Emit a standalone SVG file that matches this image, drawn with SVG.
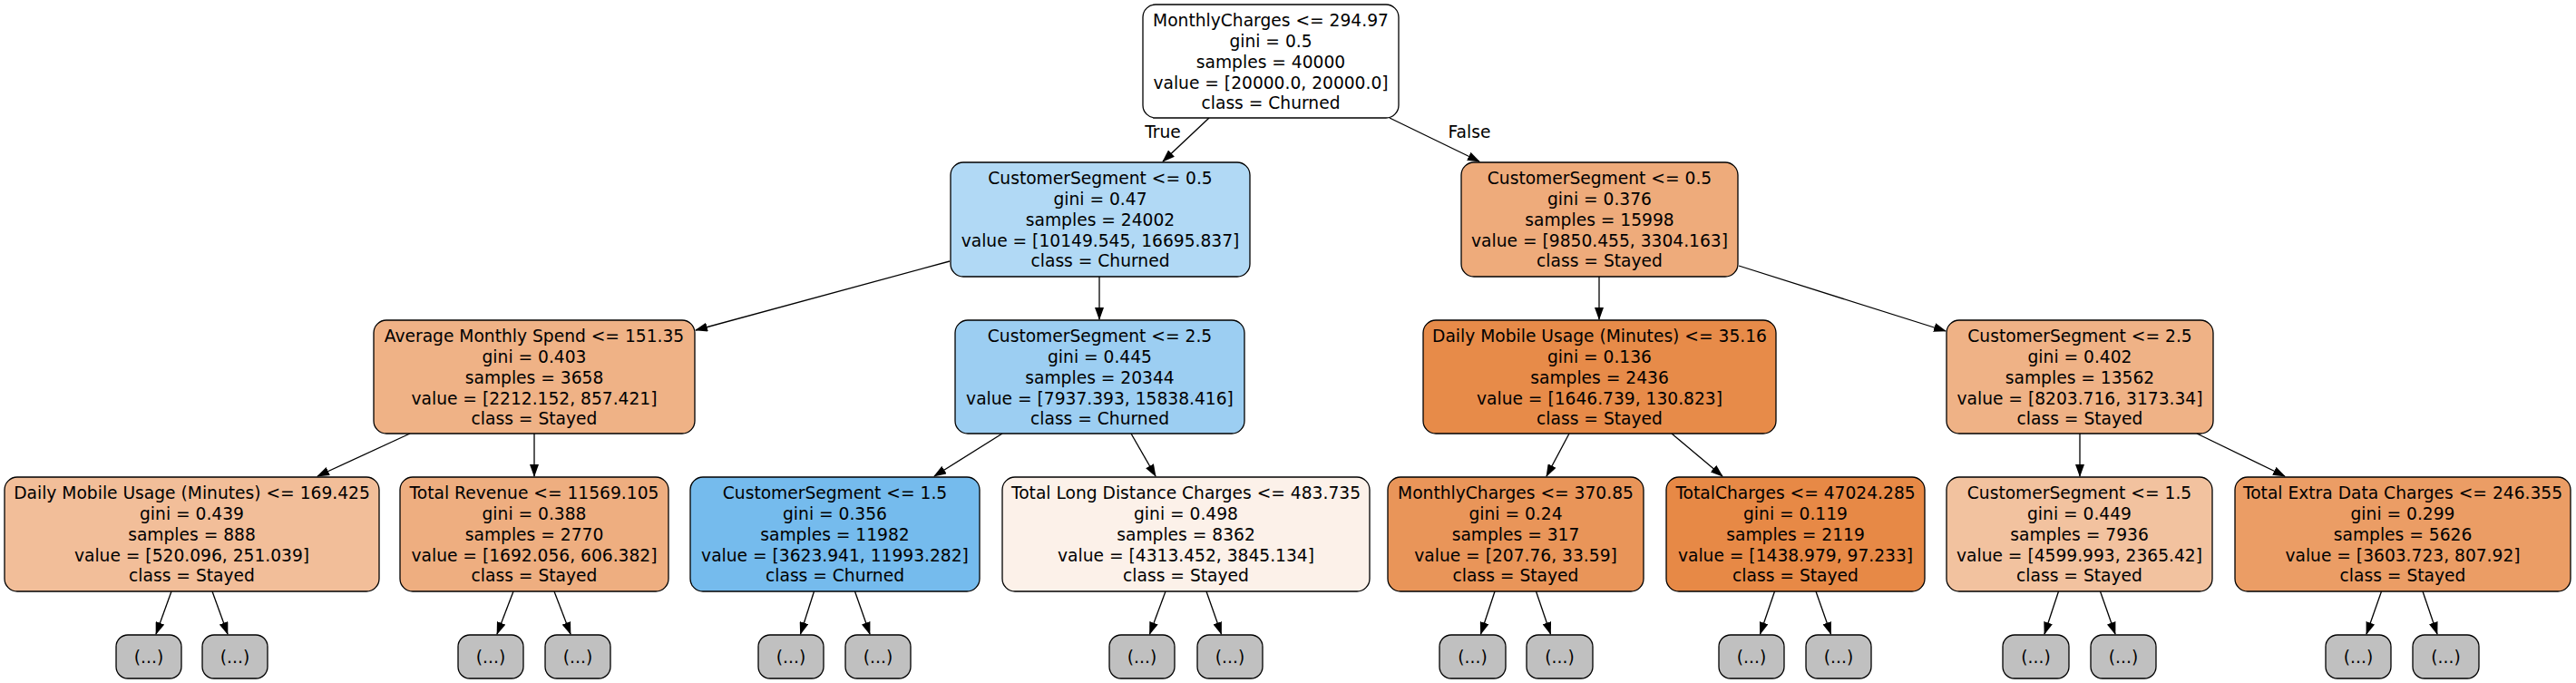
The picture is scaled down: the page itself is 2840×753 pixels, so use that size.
<svg xmlns="http://www.w3.org/2000/svg" width="2840" height="753" viewBox="0 0 2840 753">
<style>
text{font-family:"DejaVu Sans","Liberation Sans",sans-serif;font-size:18.67px;fill:#000;text-anchor:middle}
.n rect{stroke:#000;stroke-width:1.3}
.leaf rect{fill:#c0c0c0;stroke:#000;stroke-width:1.3}
#edges path{stroke:#000;stroke-width:1.3;fill:none;marker-end:url(#ah)}
</style>
<defs>
<marker id="ah" markerUnits="userSpaceOnUse" markerWidth="14" markerHeight="10" refX="13" refY="5" orient="auto">
<polygon points="0,0 14,5 0,10" fill="#000"/>
</marker>
</defs>
<rect width="2840" height="753" fill="#fff"/>
<g id="edges">
<path d="M1333,130 L1282,178"/>
<path d="M1532,130 L1631,178"/>
<path d="M1047,288 L767,364"/>
<path d="M1212,305 L1212,352"/>
<path d="M1763,305 L1763,352"/>
<path d="M1917,293 L2145,365"/>
<path d="M452,478 L350,525"/>
<path d="M589,478 L589,525"/>
<path d="M1105,478 L1030,525"/>
<path d="M1247,478 L1274,525"/>
<path d="M1730,478 L1705,525"/>
<path d="M1843,478 L1899,525"/>
<path d="M2293,478 L2293,525"/>
<path d="M2422,478 L2519,525"/>
<path d="M189,652 L172,699"/>
<path d="M234,652 L251,699"/>
<path d="M566,652 L548,699"/>
<path d="M611,652 L629,699"/>
<path d="M897.5,652 L882.5,699"/>
<path d="M942.5,652 L959,699"/>
<path d="M1285,652 L1267.5,699"/>
<path d="M1330,652 L1346.5,699"/>
<path d="M1648,652 L1632.5,699"/>
<path d="M1693.5,652 L1709.5,699"/>
<path d="M1956.5,652 L1940.5,699"/>
<path d="M2002,652 L2018.5,699"/>
<path d="M2269.5,652 L2254,699"/>
<path d="M2315.5,652 L2332,699"/>
<path d="M2625.5,652 L2609,699"/>
<path d="M2671,652 L2687,699"/>
<text x="1282" y="152">True</text>
<text x="1620" y="152">False</text>
</g>
<g id="n0" class="n"><rect x="1260" y="5" width="282" height="125" rx="14" fill="#ffffff"/>
<text x="1401" y="29">MonthlyCharges &lt;= 294.97</text><text x="1401" y="52">gini = 0.5</text><text x="1401" y="74.5">samples = 40000</text><text x="1401" y="97.5">value = [20000.0, 20000.0]</text><text x="1401" y="120">class = Churned</text></g>
<g id="n1" class="n"><rect x="1048" y="179" width="330" height="126" rx="14" fill="#b1d9f5"/>
<text x="1213" y="203">CustomerSegment &lt;= 0.5</text><text x="1213" y="226">gini = 0.47</text><text x="1213" y="248.5">samples = 24002</text><text x="1213" y="271.5">value = [10149.545, 16695.837]</text><text x="1213" y="294">class = Churned</text></g>
<g id="n2" class="n"><rect x="1611" y="179" width="305" height="126" rx="14" fill="#eeab7b"/>
<text x="1763.5" y="203">CustomerSegment &lt;= 0.5</text><text x="1763.5" y="226">gini = 0.376</text><text x="1763.5" y="248.5">samples = 15998</text><text x="1763.5" y="271.5">value = [9850.455, 3304.163]</text><text x="1763.5" y="294">class = Stayed</text></g>
<g id="n3" class="n"><rect x="412" y="353" width="354" height="125" rx="14" fill="#efb286"/>
<text x="589" y="377">Average Monthly Spend &lt;= 151.35</text><text x="589" y="400">gini = 0.403</text><text x="589" y="422.5">samples = 3658</text><text x="589" y="445.5">value = [2212.152, 857.421]</text><text x="589" y="468">class = Stayed</text></g>
<g id="n4" class="n"><rect x="1053" y="353" width="319" height="125" rx="14" fill="#9ccef2"/>
<text x="1212.5" y="377">CustomerSegment &lt;= 2.5</text><text x="1212.5" y="400">gini = 0.445</text><text x="1212.5" y="422.5">samples = 20344</text><text x="1212.5" y="445.5">value = [7937.393, 15838.416]</text><text x="1212.5" y="468">class = Churned</text></g>
<g id="n5" class="n"><rect x="1569" y="353" width="389" height="125" rx="14" fill="#e78b49"/>
<text x="1763.5" y="377">Daily Mobile Usage (Minutes) &lt;= 35.16</text><text x="1763.5" y="400">gini = 0.136</text><text x="1763.5" y="422.5">samples = 2436</text><text x="1763.5" y="445.5">value = [1646.739, 130.823]</text><text x="1763.5" y="468">class = Stayed</text></g>
<g id="n6" class="n"><rect x="2146" y="353" width="294" height="125" rx="14" fill="#efb286"/>
<text x="2293" y="377">CustomerSegment &lt;= 2.5</text><text x="2293" y="400">gini = 0.402</text><text x="2293" y="422.5">samples = 13562</text><text x="2293" y="445.5">value = [8203.716, 3173.34]</text><text x="2293" y="468">class = Stayed</text></g>
<g id="n7" class="n"><rect x="5" y="526" width="413" height="126" rx="14" fill="#f2be99"/>
<text x="211.5" y="550">Daily Mobile Usage (Minutes) &lt;= 169.425</text><text x="211.5" y="573">gini = 0.439</text><text x="211.5" y="595.5">samples = 888</text><text x="211.5" y="618.5">value = [520.096, 251.039]</text><text x="211.5" y="641">class = Stayed</text></g>
<g id="n8" class="n"><rect x="441" y="526" width="296" height="126" rx="14" fill="#eeae80"/>
<text x="589" y="550">Total Revenue &lt;= 11569.105</text><text x="589" y="573">gini = 0.388</text><text x="589" y="595.5">samples = 2770</text><text x="589" y="618.5">value = [1692.056, 606.382]</text><text x="589" y="641">class = Stayed</text></g>
<g id="n9" class="n"><rect x="761" y="526" width="319" height="126" rx="14" fill="#75bbed"/>
<text x="920.5" y="550">CustomerSegment &lt;= 1.5</text><text x="920.5" y="573">gini = 0.356</text><text x="920.5" y="595.5">samples = 11982</text><text x="920.5" y="618.5">value = [3623.941, 11993.282]</text><text x="920.5" y="641">class = Churned</text></g>
<g id="n10" class="n"><rect x="1105" y="526" width="405" height="126" rx="14" fill="#fcf1e9"/>
<text x="1307.5" y="550">Total Long Distance Charges &lt;= 483.735</text><text x="1307.5" y="573">gini = 0.498</text><text x="1307.5" y="595.5">samples = 8362</text><text x="1307.5" y="618.5">value = [4313.452, 3845.134]</text><text x="1307.5" y="641">class = Stayed</text></g>
<g id="n11" class="n"><rect x="1530" y="526" width="282" height="126" rx="14" fill="#e99559"/>
<text x="1671" y="550">MonthlyCharges &lt;= 370.85</text><text x="1671" y="573">gini = 0.24</text><text x="1671" y="595.5">samples = 317</text><text x="1671" y="618.5">value = [207.76, 33.59]</text><text x="1671" y="641">class = Stayed</text></g>
<g id="n12" class="n"><rect x="1837" y="526" width="285" height="126" rx="14" fill="#e78946"/>
<text x="1979.5" y="550">TotalCharges &lt;= 47024.285</text><text x="1979.5" y="573">gini = 0.119</text><text x="1979.5" y="595.5">samples = 2119</text><text x="1979.5" y="618.5">value = [1438.979, 97.233]</text><text x="1979.5" y="641">class = Stayed</text></g>
<g id="n13" class="n"><rect x="2146" y="526" width="293" height="126" rx="14" fill="#f2c29f"/>
<text x="2292.5" y="550">CustomerSegment &lt;= 1.5</text><text x="2292.5" y="573">gini = 0.449</text><text x="2292.5" y="595.5">samples = 7936</text><text x="2292.5" y="618.5">value = [4599.993, 2365.42]</text><text x="2292.5" y="641">class = Stayed</text></g>
<g id="n14" class="n"><rect x="2464" y="526" width="370" height="126" rx="14" fill="#eb9d65"/>
<text x="2649" y="550">Total Extra Data Charges &lt;= 246.355</text><text x="2649" y="573">gini = 0.299</text><text x="2649" y="595.5">samples = 5626</text><text x="2649" y="618.5">value = [3603.723, 807.92]</text><text x="2649" y="641">class = Stayed</text></g>
<g id="l1" class="leaf"><rect x="128" y="700" width="72" height="48" rx="13"/><text x="164" y="731">(...)</text></g>
<g id="l2" class="leaf"><rect x="223" y="700" width="72" height="48" rx="13"/><text x="259" y="731">(...)</text></g>
<g id="l3" class="leaf"><rect x="505" y="700" width="72" height="48" rx="13"/><text x="541" y="731">(...)</text></g>
<g id="l4" class="leaf"><rect x="601" y="700" width="72" height="48" rx="13"/><text x="637" y="731">(...)</text></g>
<g id="l5" class="leaf"><rect x="836" y="700" width="72" height="48" rx="13"/><text x="872" y="731">(...)</text></g>
<g id="l6" class="leaf"><rect x="932" y="700" width="72" height="48" rx="13"/><text x="968" y="731">(...)</text></g>
<g id="l7" class="leaf"><rect x="1223" y="700" width="72" height="48" rx="13"/><text x="1259" y="731">(...)</text></g>
<g id="l8" class="leaf"><rect x="1320" y="700" width="72" height="48" rx="13"/><text x="1356" y="731">(...)</text></g>
<g id="l9" class="leaf"><rect x="1587" y="700" width="73" height="48" rx="13"/><text x="1623.5" y="731">(...)</text></g>
<g id="l10" class="leaf"><rect x="1683" y="700" width="73" height="48" rx="13"/><text x="1719.5" y="731">(...)</text></g>
<g id="l11" class="leaf"><rect x="1895" y="700" width="72" height="48" rx="13"/><text x="1931" y="731">(...)</text></g>
<g id="l12" class="leaf"><rect x="1991" y="700" width="72" height="48" rx="13"/><text x="2027" y="731">(...)</text></g>
<g id="l13" class="leaf"><rect x="2208" y="700" width="73" height="48" rx="13"/><text x="2244.5" y="731">(...)</text></g>
<g id="l14" class="leaf"><rect x="2305" y="700" width="72" height="48" rx="13"/><text x="2341" y="731">(...)</text></g>
<g id="l15" class="leaf"><rect x="2564" y="700" width="72" height="48" rx="13"/><text x="2600" y="731">(...)</text></g>
<g id="l16" class="leaf"><rect x="2660" y="700" width="73" height="48" rx="13"/><text x="2696.5" y="731">(...)</text></g>
</svg>
